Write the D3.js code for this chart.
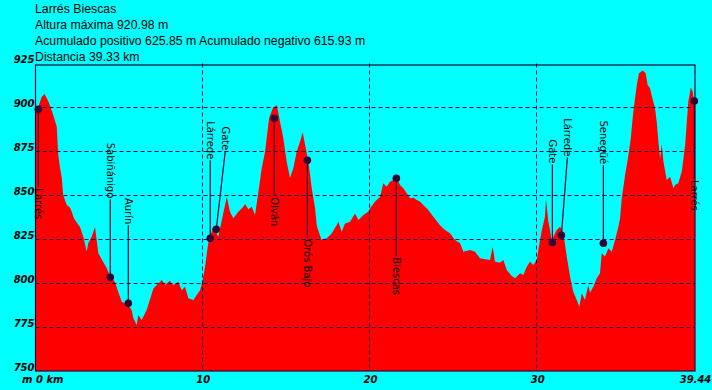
<!DOCTYPE html>
<html>
<head>
<meta charset="utf-8">
<script src="https://cdn.jsdelivr.net/npm/d3@7"></script>
<style>
  body { margin: 0; background: #00ffff; }
  svg { display: block; }
</style>
</head>
<body>
<script>
// header texts
const titleLines = [
    'Larrés Biescas',
    'Altura máxima 920.98 m',
    'Acumulado positivo 625.85 m Acumulado negativo 615.93 m',
    'Distancia 39.33 km'
]

// elevation profile (km, m)
const kmVals = [0, 0.15, 0.37, 0.54, 0.69, 0.87, 1.06, 1.27, 1.36, 1.47, 1.57, 1.66, 1.87, 2.06, 2.17, 2.26, 2.36, 2.66, 2.86, 3.06,
    3.16, 3.36, 3.56, 3.76, 4.05, 4.26, 4.47, 4.75, 4.95, 5.16, 5.55, 5.75, 5.85, 6.05, 6.15, 6.35, 6.65, 7.05, 7.25, 7.55,
    7.75, 8.04, 8.24, 8.54, 8.74, 8.94, 9.14, 9.44, 9.64, 9.84, 9.98, 10.14, 10.33, 10.63, 10.93, 11.23, 11.44, 11.63, 11.83, 12.13,
    12.43, 12.53, 12.73, 12.93, 13.13, 13.33, 13.53, 13.73, 13.97, 14.19, 14.43, 14.62, 14.82, 15.02, 15.22, 15.42, 15.62, 15.82, 15.98, 16.12,
    16.32, 16.52, 16.72, 16.82, 16.91, 17.11, 17.42, 17.72, 18.01, 18.11, 18.31, 18.51, 18.81, 19.11, 19.31, 19.61, 19.9, 20.01, 20.31, 20.61,
    20.8, 21.0, 21.2, 21.4, 21.6, 21.8, 22.0, 22.2, 22.4, 22.6, 22.8, 22.99, 23.19, 23.49, 23.79, 24.19, 24.49, 24.79, 25.09, 25.39,
    25.59, 25.99, 26.29, 26.58, 26.88, 27.18, 27.34, 27.48, 27.78, 27.98, 28.18, 28.48, 28.68, 28.98, 29.17, 29.38, 29.57, 29.77, 29.98, 30.07,
    30.28, 30.47, 30.53, 30.67, 30.77, 30.87, 30.97, 31.17, 31.37, 31.57, 31.77, 31.97, 32.16, 32.37, 32.52, 32.67, 32.86, 33.06, 33.16, 33.36,
    33.56, 33.76, 33.86, 34.06, 34.26, 34.46, 34.66, 34.86, 34.96, 35.06, 35.26, 35.46, 35.6, 35.75, 35.96, 36.09, 36.32, 36.49, 36.61, 36.75,
    36.89, 37.05, 37.15, 37.25, 37.35, 37.45, 37.55, 37.75, 37.95, 38.15, 38.25, 38.44, 38.65, 38.85, 38.95, 39.04, 39.19, 39.3, 39.38, 39.44]
const elevVals = [898, 900, 906, 907.6, 905, 901, 895.7, 889, 873, 865.5, 860, 850, 844.5, 843, 840.7, 837.8, 836, 832, 826.4, 818,
    822.8, 826.4, 832, 817, 812, 808.6, 803.7, 800.8, 795, 789.4, 787.6, 784.7, 780, 776.2, 781.9, 779, 784.7, 797, 799, 801.8,
    799, 801.4, 799, 800.8, 796, 798, 791.4, 790.4, 793.3, 796, 800.8, 809.4, 822.7, 832, 826.4, 839.8, 849, 840.7, 837, 840.7,
    843.5, 845, 842, 843.5, 838.8, 852, 865.4, 874.9, 893.8, 899.5, 901.4, 892, 882.5, 869.2, 859.8, 865.4, 874.9, 880.5, 885.9, 878.7,
    869.2, 854, 842.6, 833, 830, 824.6, 825.5, 828.4, 833, 835, 829.3, 834, 835, 839.7, 836, 838.8, 840.7, 842.6, 846.4, 849.2,
    856.8, 854.9, 857.7, 858.7, 859.7, 855.9, 854, 851.1, 848.3, 848.6, 847.3, 846.4, 844.5, 841.6, 837.8, 833, 830.2, 828.4, 824.6, 822.7,
    817.9, 818.9, 817.9, 814.1, 813.6, 813.2, 820.7, 812.2, 811.6, 813.2, 807.5, 804.1, 802.8, 805.6, 804.6, 809.4, 812.2, 810.3, 813.2, 818.9,
    830.2, 837.8, 847.9, 835, 830.2, 823.6, 826.4, 830.2, 832.1, 828.4, 815.1, 803.7, 795.1, 790.4, 786.6, 794.2, 790.4, 799, 794.6, 798,
    802.8, 805.6, 817, 815.1, 819.8, 817.9, 824.6, 832.1, 836.9, 848.3, 861.6, 872.9, 882.4, 897.6, 912.8, 919.4, 920.98, 919.4, 912.8, 910.9,
    905.2, 899.5, 891.9, 880.5, 871, 879, 869.2, 858.7, 860.6, 854, 855.9, 856.8, 863.5, 878.7, 891.9, 903.3, 911.5, 909, 903.7, 903]

// waypoints
const wpNames = ['Larrés', 'Sabiñánigo', 'Aurín', 'Lárrede', 'Gate', 'Olván', 'Orós Bajo', 'Biescas', 'Gate', 'Lárrede', 'Senegüé', 'Larrés']
const wpKm = [0.17, 4.47, 5.55, 10.45, 10.81, 14.28, 16.26, 21.58, 30.91, 31.45, 33.96, 39.4]
const wpEle = [898.9, 803.3, 788.5, 825.5, 830.6, 893.8, 869.9, 859.7, 823.2, 827.2, 822.7, 903.7]

// axis ticks
const yTicks = [750, 775, 800, 825, 850, 875, 900, 925]
const xTicks = [0, 10, 20, 30, 39.44]
const xTickLabels = ['0 km', '10', '20', '30', '39.44']

const width = 712, height = 390
const purple = '#330033'

const x = d3.scaleLinear().domain([0, 39.44]).range([35.5, 695])
const y = d3.scaleLinear().domain([750, 925]).range([371, 63.5])

const svg = d3.select('body').append('svg')
    .attr('width', width)
    .attr('height', height)

svg.append('rect')
    .attr('width', width)
    .attr('height', height)
    .attr('fill', '#00ffff')

// header
svg.append('g')
    .selectAll('text')
    .data(titleLines)
    .enter().append('text')
    .attr('x', 35)
    .attr('y', (d, i) => [12.5, 28.5, 45, 60.5][i])
    .style('font-family', '"Liberation Sans", Arial, sans-serif')
    .style('font-size', '12.3px')
    .attr('fill', '#000')
    .text(d => d)

// profile
const profile = kmVals.map((k, i) => ({km: k, ele: elevVals[i]}))
const area = d3.area()
    .x(d => x(d.km))
    .y0(y(750))
    .y1(d => y(d.ele))

svg.append('path')
    .datum(profile)
    .attr('d', area)
    .attr('fill', '#ff0000')

// grid
svg.append('g')
    .selectAll('line')
    .data(yTicks.filter(t => t > 750 && t < 925))
    .enter().append('line')
    .attr('x1', x(0)).attr('x2', x(39.44))
    .attr('y1', d => Math.round(y(d)) + 0.5)
    .attr('y2', d => Math.round(y(d)) + 0.5)
    .attr('stroke', '#1a0a50')
    .attr('stroke-dasharray', '4,3')

svg.append('g')
    .selectAll('line')
    .data(xTicks.filter(t => t > 0 && t < 39))
    .enter().append('line')
    .attr('x1', d => Math.round(x(d)) - 0.5)
    .attr('x2', d => Math.round(x(d)) - 0.5)
    .attr('y1', y(925)).attr('y2', y(750))
    .attr('stroke', '#1a0a50')
    .attr('stroke-dasharray', '4,3')

// frame
svg.append('rect')
    .attr('x', x(0))
    .attr('y', y(925) + 1.5)
    .attr('width', x(39.44) - x(0))
    .attr('height', y(750) - y(925) - 1.5)
    .attr('fill', 'none')
    .attr('stroke', purple)
    .attr('stroke-width', 1.2)

// y axis labels
const yAxis = svg.append('g')
    .attr('transform', 'translate(' + x(0) + ',0)')
    .call(d3.axisLeft(y).tickValues(yTicks).tickSize(0).tickPadding(1))
yAxis.select('.domain').remove()
yAxis.selectAll('text')
    .attr('dy', '-0.1em')
    .style('font-family', '"DejaVu Sans", Verdana, sans-serif')
    .style('font-size', '10px')
    .style('font-weight', 'bold')
    .style('font-style', 'italic')
    .attr('fill', '#000')

// x axis labels
const xAxis = svg.append('g')
    .attr('transform', 'translate(0,' + y(750) + ')')
    .call(d3.axisBottom(x).tickValues(xTicks).tickSize(0)
        .tickFormat((d, i) => xTickLabels[i]))
xAxis.select('.domain').remove()
xAxis.selectAll('text')
    .attr('y', 12)
    .attr('dy', 0)
    .attr('text-anchor', (d, i) => i === 0 ? 'start' : 'middle')
    .style('font-family', '"DejaVu Sans", Verdana, sans-serif')
    .style('font-size', '10px')
    .style('font-weight', 'bold')
    .style('font-style', 'italic')
    .attr('fill', '#000')

svg.append('text')
    .attr('x', 22)
    .attr('y', y(750) + 12)
    .style('font-family', '"DejaVu Sans", Verdana, sans-serif')
    .style('font-size', '10px')
    .style('font-weight', 'bold')
    .style('font-style', 'italic')
    .text('m')

// waypoints: label below when high, above when low
const lineLen = 78
let lastAbove = -100
const waypoints = wpNames.map((name, i) => {
    const mx = x(wpKm[i]), my = y(wpEle[i])
    const below = wpEle[i] > 845
    let lx = mx
    if (!below) {
        if (lx - lastAbove < 15) lx = lastAbove + 15
        lastAbove = lx
    }
    const ly = below ? my + lineLen : my - lineLen
    return {name, mx, my, lx, ly, below}
})

const wp = svg.append('g')
wp.selectAll('line')
    .data(waypoints)
    .enter().append('line')
    .attr('x1', d => d.mx).attr('y1', d => d.my)
    .attr('x2', d => d.lx).attr('y2', d => d.ly)
    .attr('stroke', purple)
    .attr('stroke-width', 1.2)

wp.selectAll('circle')
    .data(waypoints)
    .enter().append('circle')
    .attr('cx', d => d.mx)
    .attr('cy', d => d.my)
    .attr('r', 3.8)
    .attr('fill', purple)

wp.selectAll('text')
    .data(waypoints)
    .enter().append('text')
    .attr('transform', d => 'translate(' + d.lx + ',' + (d.below ? d.ly + 1 : d.ly - 1) + ') rotate(90)')
    .attr('dy', '0.35em')
    .attr('text-anchor', d => d.below ? 'start' : 'end')
    .style('font-family', '"DejaVu Sans", Verdana, sans-serif')
    .style('font-size', '10px')
    .attr('fill', '#000')
    .text(d => d.name)
</script>
</body>
</html>
